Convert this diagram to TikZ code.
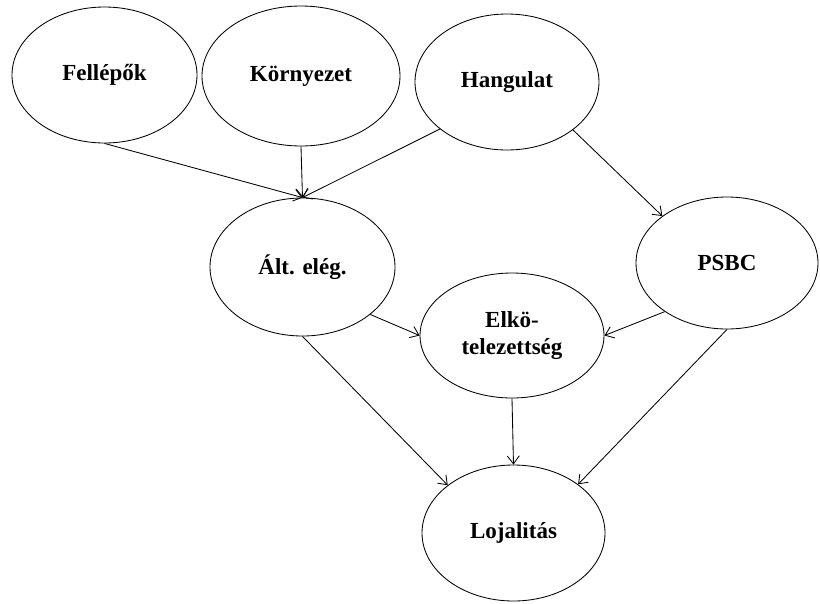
\documentclass[tikz,border=0pt]{standalone}
\usepackage{fontspec}
\setmainfont{Liberation Serif}
\usepackage{tikz}
\usetikzlibrary{shapes.geometric,arrows.meta}

\begin{document}
\begin{tikzpicture}[x=1pt,y=-1pt,
		blob/.style={ellipse, draw, line width=0.85pt, inner sep=0pt, align=center,
			font=\bfseries\fontsize{23}{27}\selectfont},
		link/.style={line width=0.85pt, -{Straight Barb[length=8pt,width=12pt]}}]
			\useasboundingbox (0,0) rectangle (820,603);
			\node [blob, minimum width=185pt, minimum height=136pt] (fel) at (104.5,75) {Fellépők};
			\node [blob, minimum width=198pt, minimum height=140pt] (kor) at (301,76) {Környezet};
			\node [blob, minimum width=184pt, minimum height=136pt] (han) at (507,82) {Hangulat};
			\node [blob, minimum width=185pt, minimum height=138pt] (alt) at (302.5,267) {Ált. elég.};
			\node [blob, minimum width=182pt, minimum height=132pt] (psbc) at (727,263) {PSBC};
			\node [blob, minimum width=184pt, minimum height=125pt] (elk) at (512,335.5) {Elkö-\\telezettség};
			\node [blob, minimum width=183pt, minimum height=136pt] (loj) at (513.5,533) {Lojalitás};
			%
			\draw [link] (fel.south) -- (alt.north);
			\draw [link] (kor.south) -- (alt.north);
			\draw [link] (han.215) -- (alt.north);
			\draw [link] (han.324) -- (psbc.144);
			\draw [link] (alt.325) -- (elk.west);
			\draw [link] (psbc.218) -- (elk.east);
			\draw [link] (alt.south) -- (loj.144);
			\draw [link] (elk.south) -- (loj.north);
			\draw [link] (psbc.south) -- (loj.37);
		\end{tikzpicture}
\end{document}
